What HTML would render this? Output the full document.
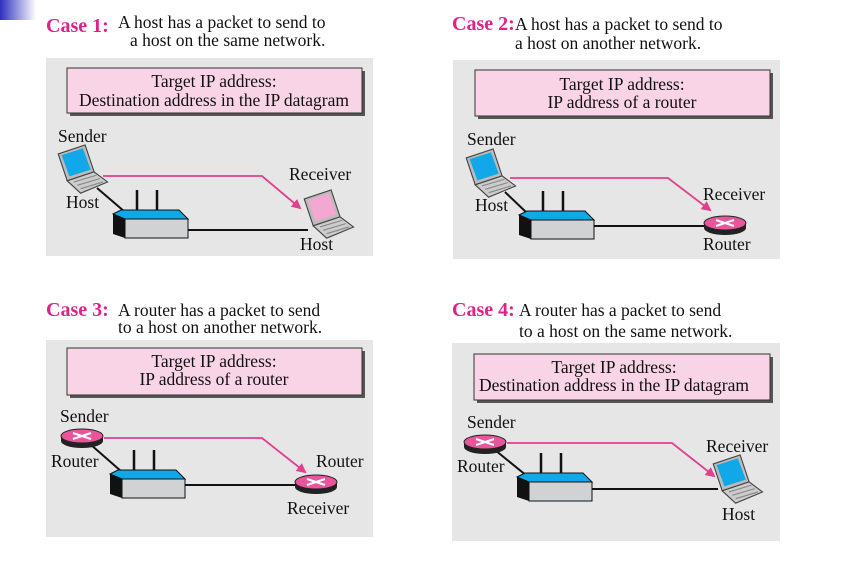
<!DOCTYPE html>
<html><head><meta charset="utf-8"><style>
html,body{margin:0;padding:0;background:#fff;}
svg{display:block;}
text{font-family:"Liberation Serif",serif;font-size:17.5px;fill:#111;}
.c{font-weight:bold;fill:#e0218a;font-size:20px;}
</style></head><body>
<svg width="862" height="572" viewBox="0 0 862 572" xmlns="http://www.w3.org/2000/svg">
<defs>
<linearGradient id="g" x1="0" y1="0" x2="1" y2="0"><stop offset="0" stop-color="#3030c0"/><stop offset="1" stop-color="#fff"/></linearGradient>
<marker id="ar" markerWidth="10" markerHeight="10" refX="8" refY="5" orient="auto" markerUnits="userSpaceOnUse"><path d="M0,0 L10,5 L0,10 Z" fill="#e0408f"/></marker>
<g id="sw">
<line x1="24" y1="-20" x2="24" y2="2" stroke="#111" stroke-width="2.5"/>
<line x1="44" y1="-20" x2="44" y2="2" stroke="#111" stroke-width="2.5"/>
<polygon points="0,4 12,9 12,28 0,24" fill="#111"/>
<polygon points="0,4 8,0 66,0 75,9 12,9" fill="#10a8e8" stroke="#111" stroke-width="1"/>
<rect x="12" y="9" width="63" height="19" fill="#d0d2d4" stroke="#111" stroke-width="1"/>
</g>
<g id="rt">
<path d="M-21,0 L-21,5 A21,7 0 0 0 21,5 L21,0 Z" fill="#222"/>
<ellipse cx="0" cy="0" rx="21" ry="7" fill="#e8559a" stroke="#222" stroke-width="1"/>
<path d="M-9,-3 L9,3 M-9,3 L9,-3" stroke="#fff" stroke-width="2"/>
</g>
<g id="lt" transform="scale(1.12)">
<polygon points="2,8 26,0 34,24 10,32" fill="#bbb" stroke="#444" stroke-width="1"/>
<polygon points="5,9 24,3 31,22 12,28" fill="#10a8e8"/>
<polygon points="10,32 34,24 46,33 22,43" fill="#ccc" stroke="#444" stroke-width="1"/>
<path d="M16,33 L36,27 M19,36 L39,30 M22,39 L42,33" stroke="#888" stroke-width="1"/>
</g>
<g id="ltp" transform="scale(1.12)">
<polygon points="2,8 26,0 34,24 10,32" fill="#bbb" stroke="#444" stroke-width="1"/>
<polygon points="5,9 24,3 31,22 12,28" fill="#f2a8d0"/>
<polygon points="10,32 34,24 46,33 22,43" fill="#ccc" stroke="#444" stroke-width="1"/>
<path d="M16,33 L36,27 M19,36 L39,30 M22,39 L42,33" stroke="#888" stroke-width="1"/>
</g>
</defs>
<rect x="0" y="0" width="36" height="20" fill="url(#g)"/>

<!-- Panel 1 -->
<text class="c" x="46" y="32">Case 1:</text>
<text x="118" y="28">A host has a packet to send to</text>
<text x="130" y="46">a host on the same network.</text>
<rect x="46" y="58" width="327" height="198" fill="#e6e6e6"/>
<rect x="70" y="71" width="295" height="45" fill="#555"/>
<rect x="67" y="68" width="295" height="45" fill="#f8d4e6" stroke="#333" stroke-width="1"/>
<text x="214" y="87" text-anchor="middle">Target IP address:</text>
<text x="214" y="106" text-anchor="middle">Destination address in the IP datagram</text>
<line x1="97" y1="188" x2="125" y2="212" stroke="#111" stroke-width="2"/>
<line x1="188" y1="230" x2="308" y2="230" stroke="#111" stroke-width="2"/>
<use href="#sw" x="113" y="210"/>
<use href="#lt" x="56" y="145"/>
<use href="#ltp" x="302" y="190"/>
<polyline points="103,176 262,176 300,208" fill="none" stroke="#e0408f" stroke-width="1.8" marker-end="url(#ar)"/>
<text x="58" y="142">Sender</text>
<text x="66" y="208">Host</text>
<text x="289" y="180">Receiver</text>
<text x="300" y="250">Host</text>

<!-- Panel 2 -->
<text class="c" x="452" y="30">Case 2:</text>
<text x="515" y="30">A host has a packet to send to</text>
<text x="515" y="49">a host on another network.</text>
<rect x="453" y="60" width="327" height="199" fill="#e6e6e6"/>
<rect x="478" y="73" width="295" height="46" fill="#555"/>
<rect x="475" y="70" width="295" height="46" fill="#f8d4e6" stroke="#333" stroke-width="1"/>
<text x="622" y="90" text-anchor="middle">Target IP address:</text>
<text x="622" y="108" text-anchor="middle">IP address of a router</text>
<line x1="505" y1="192" x2="528" y2="214" stroke="#111" stroke-width="2"/>
<line x1="594" y1="226" x2="706" y2="226" stroke="#111" stroke-width="2"/>
<use href="#sw" x="519" y="211"/>
<use href="#lt" x="464" y="149"/>
<use href="#rt" x="725" y="223"/>
<polyline points="510,178 668,178 710,210" fill="none" stroke="#e0408f" stroke-width="1.8" marker-end="url(#ar)"/>
<text x="467" y="145">Sender</text>
<text x="475" y="211">Host</text>
<text x="703" y="200">Receiver</text>
<text x="703" y="250">Router</text>

<!-- Panel 3 -->
<text class="c" x="46" y="316">Case 3:</text>
<text x="118" y="316">A router has a packet to send</text>
<text x="118" y="333">to a host on another network.</text>
<rect x="46" y="340" width="327" height="197" fill="#e6e6e6"/>
<rect x="70" y="351" width="295" height="47" fill="#555"/>
<rect x="67" y="348" width="295" height="47" fill="#f8d4e6" stroke="#333" stroke-width="1"/>
<text x="214" y="367" text-anchor="middle">Target IP address:</text>
<text x="214" y="385" text-anchor="middle">IP address of a router</text>
<line x1="90" y1="444" x2="122" y2="472" stroke="#111" stroke-width="2"/>
<line x1="184" y1="485" x2="296" y2="485" stroke="#111" stroke-width="2"/>
<use href="#sw" x="110" y="470"/>
<use href="#rt" x="82" y="436"/>
<use href="#rt" x="316" y="482"/>
<polyline points="104,438 262,438 305,472" fill="none" stroke="#e0408f" stroke-width="1.8" marker-end="url(#ar)"/>
<text x="60" y="422">Sender</text>
<text x="51" y="467">Router</text>
<text x="316" y="467">Router</text>
<text x="287" y="514">Receiver</text>

<!-- Panel 4 -->
<text class="c" x="452" y="316">Case 4:</text>
<text x="519" y="316">A router has a packet to send</text>
<text x="519" y="337">to a host on the same network.</text>
<rect x="452" y="343" width="328" height="198" fill="#e6e6e6"/>
<rect x="477" y="357" width="296" height="46" fill="#555"/>
<rect x="474" y="354" width="296" height="46" fill="#f8d4e6" stroke="#333" stroke-width="1"/>
<text x="614" y="373" text-anchor="middle">Target IP address:</text>
<text x="614" y="391" text-anchor="middle">Destination address in the IP datagram</text>
<line x1="495" y1="450" x2="527" y2="476" stroke="#111" stroke-width="2"/>
<line x1="592" y1="489" x2="718" y2="489" stroke="#111" stroke-width="2"/>
<use href="#sw" x="517" y="473"/>
<use href="#rt" x="485" y="442"/>
<use href="#lt" x="711" y="455"/>
<polyline points="507,443 672,443 714,476" fill="none" stroke="#e0408f" stroke-width="1.8" marker-end="url(#ar)"/>
<text x="467" y="428">Sender</text>
<text x="457" y="472">Router</text>
<text x="706" y="452">Receiver</text>
<text x="722" y="520">Host</text>
</svg>
</body></html>
